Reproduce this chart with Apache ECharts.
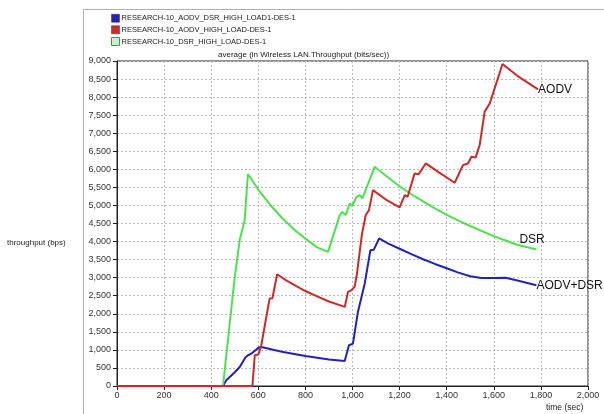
<!DOCTYPE html>
<html>
<head>
<meta charset="utf-8">
<script src="https://cdn.jsdelivr.net/npm/echarts@6/dist/echarts.min.js"></script>
<style>
html,body{margin:0;padding:0;background:#fff;}
#c{width:604px;height:414px;}
</style>
</head>
<body>
<div id="c"></div>
<script>
var seriesNames = ['RESEARCH-10_AODV_DSR_HIGH_LOAD1-DES-1','RESEARCH-10_AODV_HIGH_LOAD-DES-1','RESEARCH-10_DSR_HIGH_LOAD-DES-1'];
var shortNames = ['AODV+DSR','AODV','DSR'];
var titleText = 'average (in Wireless LAN.Throughput (bits/sec))';
var yAxisTitle = 'throughput (bps)';
var xAxisTitle = 'time (sec)';

// [time (sec), throughput (bps)]
var aodvDsr = [[0,0],[450,0],[464,158],[500,380],[521,527],[545,790],[556,850],[575,920],[603,1070],[613,1081],
  [700,947],[800,828],[900,736],[967,693],[985,1128],[1002,1175],[1023,2051],[1052,2838],[1076,3761],[1090,3770],[1113,4085],
  [1150,3950],[1200,3800],[1250,3650],[1300,3510],[1350,3380],[1400,3260],[1450,3140],[1500,3040],[1547,2990],
  [1600,2990],[1650,2995],[1700,2920],[1781,2791]];
var aodv = [[0,0],[575,0],[585,850],[600,870],[612,1100],[634,1910],[648,2420],[660,2430],[680,3095],
  [720,2920],[760,2770],[800,2630],[850,2480],[900,2340],[967,2190],[981,2606],[995,2650],[1009,2745],[1019,3115],[1040,4200],[1056,4730],[1070,4870],[1087,5424],
  [1140,5170],[1200,4944],[1222,5285],[1234,5240],[1264,5887],[1280,5860],[1311,6163],[1370,5900],[1434,5628],[1469,6117],[1490,6163],
  [1505,6347],[1523,6330],[1540,6671],[1561,7594],[1583,7827],[1637,8916],[1700,8590],[1788,8215]];
var dsr = [[0,0],[450,0],[500,3020],[521,4040],[542,4590],[556,5870],[600,5440],[650,5020],[700,4660],[750,4350],[800,4080],[850,3840],[896,3715],
  [946,4731],[957,4823],[971,4731],[988,5055],[999,4980],[1017,5240],[1031,5285],[1042,5194],[1094,6070],
  [1150,5780],[1200,5530],[1250,5310],[1300,5110],[1350,4920],[1400,4740],[1450,4580],[1500,4430],[1550,4290],[1600,4150],[1650,4030],[1700,3910],[1781,3780]];
var xTicks = {min:0, max:2000, interval:200};
var yTicks = {min:0, max:9000, interval:500};

var colors = ['#2222bb','#cc2a2a','#4fe04f'];
var font = 'Liberation Sans, Arial, sans-serif';
var fmt = function(v){ return Number(v).toLocaleString('en-US'); };

var chart = echarts.init(document.getElementById('c'), null, {renderer:'canvas'});
var datas = [aodvDsr, aodv, dsr];
var endOffsets = [[-1,0],[-1,0],[-18,-10]];
var series = datas.map(function(d,i){
  return {
    name: seriesNames[i], type:'line', data:d, showSymbol:false, symbol:'none',
    lineStyle:{color:colors[i], width:2}, itemStyle:{color:colors[i]},
    z: i===1 ? 4 : 3,
    animation:false,
    endLabel:{show:true, formatter:shortNames[i], color:'#111', fontSize:12, fontFamily:font, distance:1, offset:endOffsets[i]}
  };
});

chart.setOption({
  animation:false,
  backgroundColor:'#fff',
  textStyle:{fontFamily:font},
  legend:{
    orient:'vertical', left:111, top:14, padding:0, itemWidth:8, itemHeight:8, itemGap:3,
    icon:'rect', textStyle:{fontSize:7.5, color:'#222', fontFamily:font, padding:[0,0,0,-3]},
    data: seriesNames.map(function(n,i){
      return {name:n, itemStyle: i===2 ? {color:'#c8f5c8', borderColor:'#22aa22', borderWidth:1} : {color:colors[i], borderColor:'#333', borderWidth:0.5}};
    })
  },
  grid:{left:117, right:16, top:61, bottom:28, show:true, borderColor:'#222', borderWidth:1, backgroundColor:'transparent'},
  xAxis:{
    type:'value', min:xTicks.min, max:xTicks.max, interval:xTicks.interval,
    axisLine:{show:true, lineStyle:{color:'#222', width:1}},
    axisTick:{show:true, length:4, lineStyle:{color:'#222'}},
    axisLabel:{fontSize:9, color:'#333', formatter:fmt, margin:5, fontFamily:font},
    splitLine:{show:true, lineStyle:{color:'#bbb', type:[2,2], width:1}}
  },
  yAxis:{
    type:'value', min:yTicks.min, max:yTicks.max, interval:yTicks.interval,
    axisLine:{show:true, lineStyle:{color:'#222', width:1}},
    axisTick:{show:true, length:4, lineStyle:{color:'#222'}},
    axisLabel:{fontSize:9, color:'#333', formatter:fmt, margin:6, fontFamily:font},
    splitLine:{show:true, lineStyle:{color:'#bbb', type:[2,2], width:1}}
  },
  graphic:[
    {type:'rect', shape:{x:83.5, y:9.5, width:540, height:420}, style:{fill:'none', stroke:'#b0b0b0', lineWidth:1}, silent:true, z:-1},
    {type:'text', left:218, top:51, style:{text:titleText, fontSize:8, fill:'#222', fontFamily:font}},
    {type:'text', left:7, top:239, style:{text:yAxisTitle, fontSize:8, fill:'#222', fontFamily:font}},
    {type:'text', left:546, top:403, style:{text:xAxisTitle, fontSize:8.5, fill:'#222', fontFamily:font}}
  ],
  series:series
});
</script>
</body>
</html>
